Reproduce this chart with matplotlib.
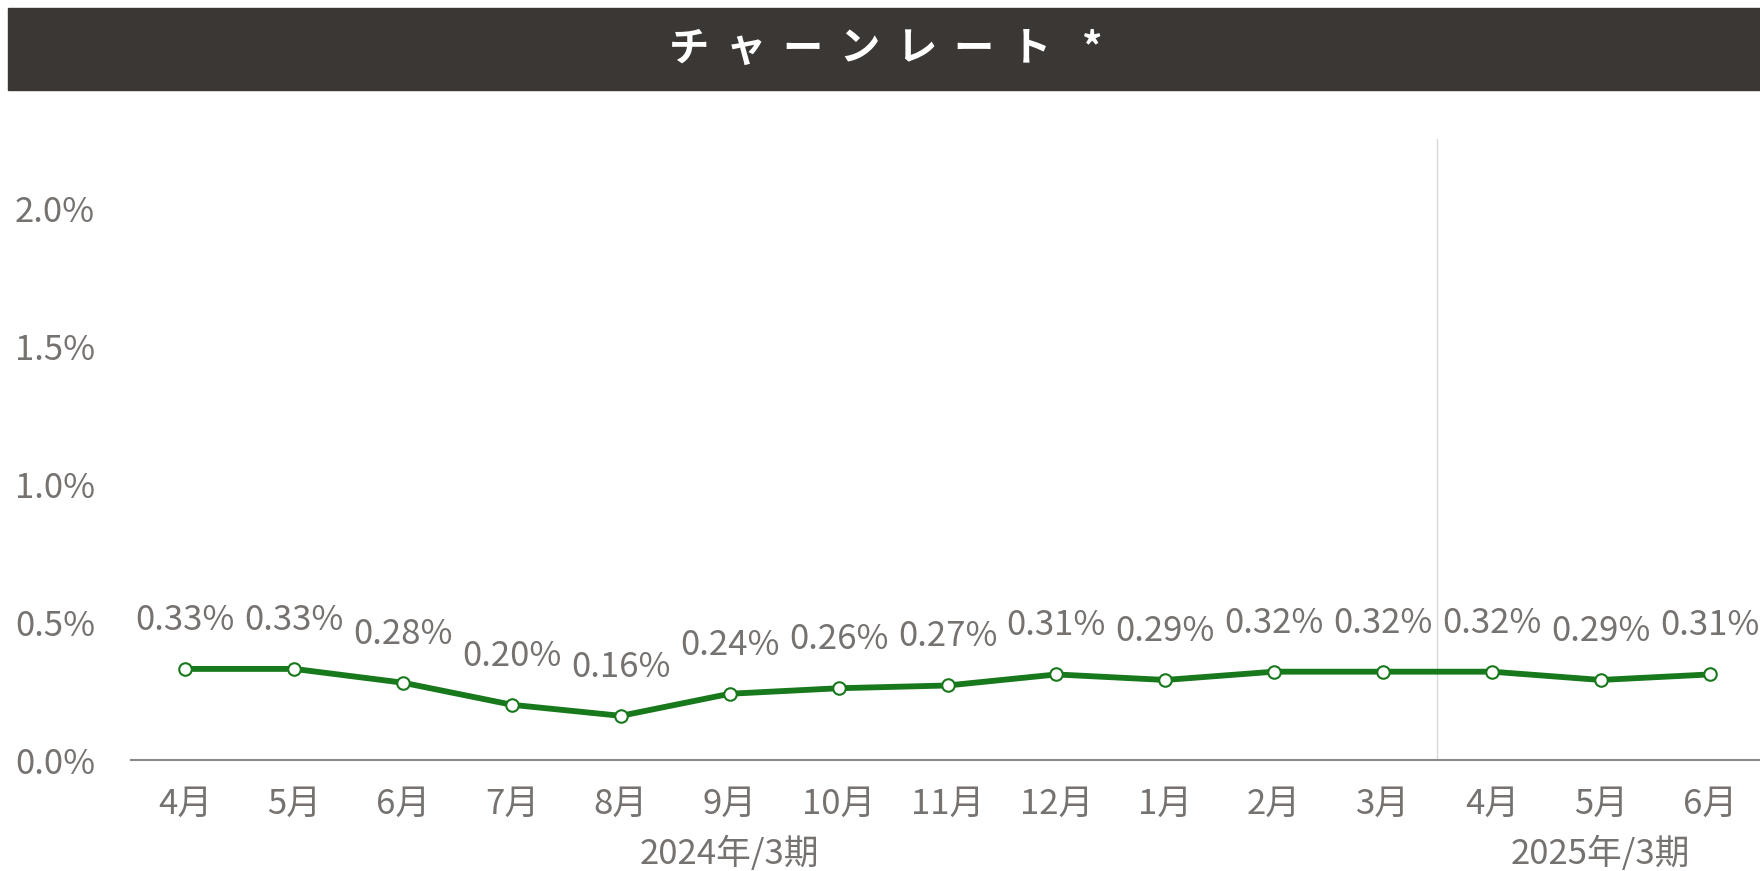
import numpy as np
import matplotlib
matplotlib.use("Agg")
import matplotlib.pyplot as plt
import matplotlib.transforms as mtransforms
from matplotlib.patches import Rectangle

plt.rcParams['font.family'] = ['Noto Sans CJK JP', 'DejaVu Sans']

# data
months = ['4月', '5月', '6月', '7月', '8月', '9月', '10月', '11月', '12月',
          '1月', '2月', '3月', '4月', '5月', '6月']
churn = [0.33, 0.33, 0.28, 0.20, 0.16, 0.24, 0.26, 0.27, 0.31,
         0.29, 0.32, 0.32, 0.32, 0.29, 0.31]
periods = ['2024年/3期', '2025年/3期']
period_start = [0, 12]
period_end = [11, 14]
yticks = [0.0, 0.5, 1.0, 1.5, 2.0]
title = 'チャーンレート*'

GREEN = '#17781c'
GRAY = '#767270'
BAR = '#3b3734'

fig = plt.figure(figsize=(17.6, 8.71), dpi=100)

# title bar
fig.patches.append(Rectangle((8/1760, 1-90/871), 1-8/1760, 82/871,
                             transform=fig.transFigure, color=BAR, zorder=0))
n = len(title)
step = 57/1760
x0 = 0.5 + 8/1760 - step*(n-1)/2
for i, ch in enumerate(title):
    # the asterisk sits a little further out
    dx = 5/1760 if ch == '*' else 0
    fig.text(x0 + i*step + dx, 1-49/871, ch, color='white', fontsize=29,
             fontweight='bold', ha='center', va='center')

ax = fig.add_axes([131/1760, 1-760/871, 1633/1760, 621/871])
x = np.arange(len(months))
ax.plot(x, churn, color=GREEN, lw=4.2, marker='o', ms=9,
        mfc='white', mec=GREEN, mew=1.5, zorder=3, clip_on=False)
for xi, v in zip(x, churn):
    ax.annotate(f'{v:.2f}%', (xi, v), xytext=(0, 35), textcoords='offset points',
                ha='center', va='center', fontsize=25, color=GRAY)

ax.set_xlim(-0.5, len(months)-0.5)
ax.set_ylim(0, 2.25)
ax.set_yticks(yticks)
ax.set_yticklabels([f'{t:.1f}%' for t in yticks])
ax.set_xticks(x)
ax.set_xticklabels(months)
ax.tick_params(axis='both', length=0, labelsize=25, labelcolor=GRAY)
ax.tick_params(axis='y', pad=26)
ax.tick_params(axis='x', pad=19)

for s in ['top', 'right', 'left']:
    ax.spines[s].set_visible(False)
ax.spines['bottom'].set_color('#8c8884')
ax.spines['bottom'].set_linewidth(1.5)

# period divider
ax.axvline(11.5, color='#d9d9d9', lw=1, zorder=1)

trans = mtransforms.blended_transform_factory(ax.transData, ax.transAxes)
ax.text(5, -0.152, periods[0], transform=trans, ha='center', va='center',
        fontsize=25, color=GRAY)
ax.text((period_start[1]+period_end[1])/2, -0.152, periods[1], transform=trans,
        ha='center', va='center', fontsize=25, color=GRAY)

fig.savefig('out.png', dpi=100)
